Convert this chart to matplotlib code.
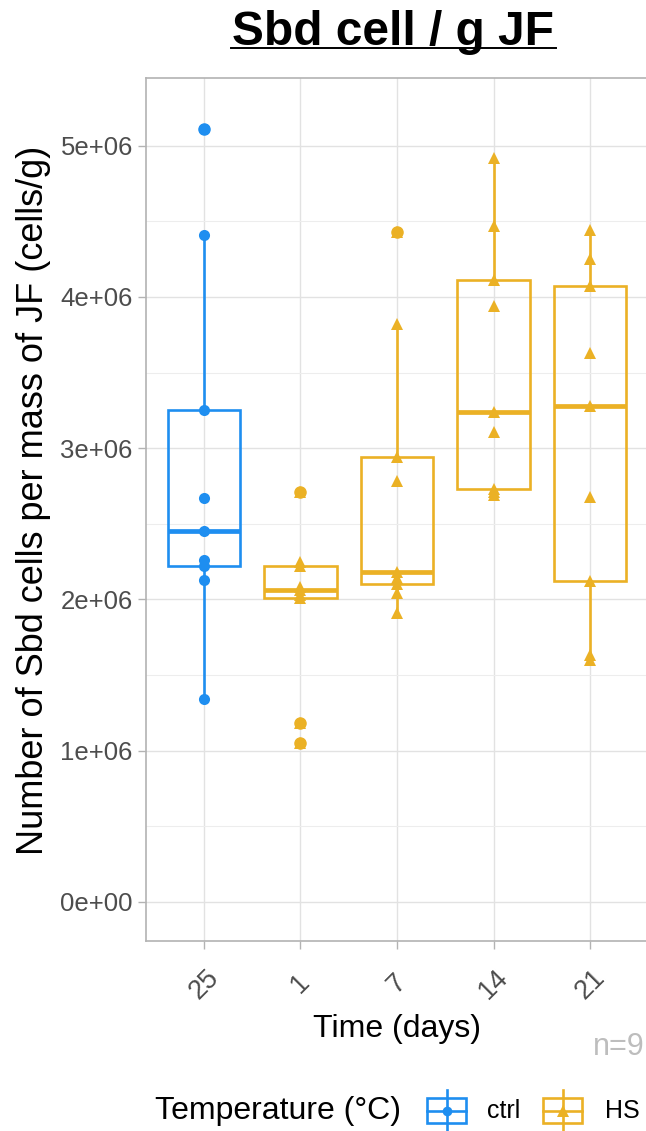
import matplotlib.pyplot as plt
from matplotlib.patches import Rectangle
from matplotlib.ticker import MultipleLocator

plt.rcParams['font.family'] = ['Liberation Sans', 'DejaVu Sans']

# data (cells/g)
time_labels = ['25', '1', '7', '14', '21']
groups = ['ctrl', 'HS', 'HS', 'HS', 'HS']
ctrl_25 = [5.11e6, 4.41e6, 3.25e6, 2.67e6, 2.45e6, 2.26e6, 2.22e6, 2.13e6, 1.34e6]
hs_1 = [2.71e6, 2.25e6, 2.22e6, 2.08e6, 2.06e6, 2.03e6, 2.01e6, 1.18e6, 1.05e6]
hs_7 = [4.43e6, 3.82e6, 2.94e6, 2.78e6, 2.18e6, 2.14e6, 2.10e6, 2.04e6, 1.91e6]
hs_14 = [4.92e6, 4.47e6, 4.11e6, 3.94e6, 3.24e6, 3.11e6, 2.73e6, 2.71e6, 2.69e6]
hs_21 = [4.44e6, 4.25e6, 4.07e6, 3.63e6, 3.28e6, 2.68e6, 2.12e6, 1.63e6, 1.60e6]
series = [ctrl_25, hs_1, hs_7, hs_14, hs_21]

COLORS = {'ctrl': '#1E8EF0', 'HS': '#EBB125'}
MARKERS = {'ctrl': 'o', 'HS': '^'}
MSIZE = {'ctrl': 8, 'HS': 9}
GRID = '#E2E2E2'
BORDER = '#B3B3B3'

W, H = 646, 1131
fig = plt.figure(figsize=(W / 100, H / 100), dpi=100)
fig.patch.set_facecolor('white')

L, R, T, B = 146, 648, 78, 941
ax = fig.add_axes([L / W, 1 - B / H, (R - L) / W, (B - T) / H])

positions = list(range(1, len(series) + 1))
for pos, vals, grp in zip(positions, series, groups):
    c = COLORS[grp]
    ax.boxplot([vals], positions=[pos], widths=0.75, whis=1.5, patch_artist=True,
               showcaps=False, zorder=3,
               boxprops=dict(facecolor='none', edgecolor=c, linewidth=1.9),
               whiskerprops=dict(color=c, linewidth=1.9),
               medianprops=dict(color=c, linewidth=3.4, solid_capstyle='butt'),
               flierprops=dict(marker='o', markerfacecolor=c, markeredgecolor=c,
                               markersize=8))
    ax.plot([pos] * len(vals), vals, linestyle='none', marker=MARKERS[grp],
            color=c, markersize=MSIZE[grp], markeredgewidth=0, zorder=4)

ax.set_xlim(0.4, len(series) + 0.6)
ax.set_ylim(-0.259e6, 5.448e6)
ax.set_xticks(positions)
ax.set_xticklabels(time_labels)
ax.yaxis.set_minor_locator(MultipleLocator(0.5e6))
ax.set_yticks([0, 1e6, 2e6, 3e6, 4e6, 5e6])
ax.set_yticklabels(['0e+00', '1e+06', '2e+06', '3e+06', '4e+06', '5e+06'])

ax.grid(True, which='major', color=GRID, linewidth=1.0, zorder=0)
ax.grid(True, which='minor', axis='y', color='#EDEDED', linewidth=0.8, zorder=0)
ax.set_axisbelow(True)
for side in ['left', 'bottom', 'top', 'right']:
    ax.spines[side].set_color(BORDER)
    ax.spines[side].set_linewidth(1.2)

ax.tick_params(axis='both', which='major', length=6, width=1.0, color=BORDER,
               labelcolor='#4D4D4D', labelsize=18.5)
ax.tick_params(axis='y', which='minor', length=0)
ax.tick_params(axis='x', pad=25, labelsize=19.5)
for lab in ax.get_xticklabels():
    lab.set_rotation(45)
    lab.set_ha('center')
    lab.set_va('center')

ax.set_xlabel('Time (days)', fontsize=23, color='black', labelpad=7)
ax.set_ylabel('Number of Sbd cells per mass of JF (cells/g)', fontsize=26,
              color='black')
ax.yaxis.set_label_coords(-0.19, 0.51)

# overlay in pixel coords for title, caption and legend
ov = fig.add_axes([0, 0, 1, 1], zorder=10)
ov.set_xlim(0, W)
ov.set_ylim(H, 0)
ov.axis('off')
ov.patch.set_alpha(0)

ov.text(393, 45, 'Sbd cell / g JF', fontsize=34.5, fontweight='bold',
        ha='center', va='baseline', color='black')
ov.plot([231, 556], [48, 48], color='black', linewidth=1.4)

ov.text(645, 1047, 'n=9', fontsize=22, color='#BDBDBD', ha='right', va='center')

ov.text(155, 1111, 'Temperature (°C)', fontsize=23, color='black',
        ha='left', va='center')
for x0, grp, label, lx in [(427, 'ctrl', 'ctrl', 487), (543, 'HS', 'HS', 605)]:
    c = COLORS[grp]
    ov.plot([x0 + 19.5, x0 + 19.5], [1090, 1131], color=c, linewidth=1.9)
    ov.add_patch(Rectangle((x0, 1098), 39, 25, facecolor='white', edgecolor=c,
                           linewidth=1.9))
    ov.plot([x0, x0 + 39], [1111, 1111], color=c, linewidth=1.9)
    ov.plot([x0 + 19.5], [1111], marker=MARKERS[grp], color=c,
            markersize=MSIZE[grp] - 1, markeredgewidth=0)
    ov.text(lx, 1111, label, fontsize=18, color='black', ha='left', va='center')

fig.savefig('out.png', dpi=100, facecolor='white')
